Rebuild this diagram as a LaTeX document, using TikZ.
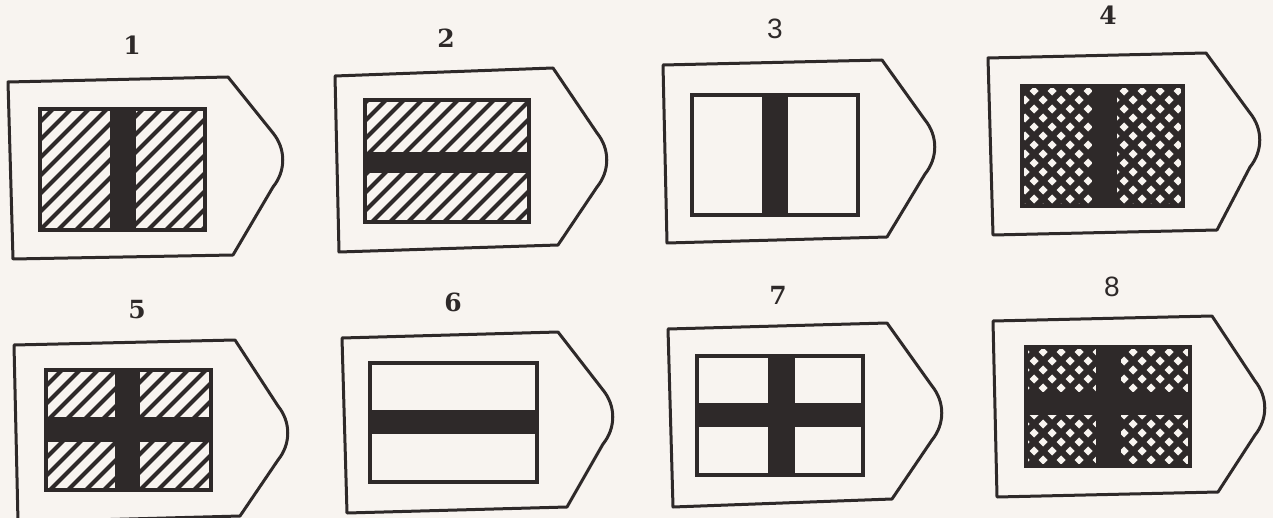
\documentclass[tikz,border=0pt]{standalone}
\usepackage{fontspec}
\setmainfont{DejaVu Serif}
\newfontfamily\sansdig{Liberation Sans}
\usetikzlibrary{calc}
\definecolor{ink}{HTML}{2E2929}
\definecolor{paper}{HTML}{F8F4F0}
\tikzset{
  outline/.style={draw=ink, line width=3pt, line join=round, fill=paper},
  flagframe/.style={draw=ink, line width=3.5pt, fill=paper},
  barfill/.style={fill=ink},
  hatchline/.style={draw=ink, line width=4pt},
  crossline/.style={draw=ink, line width=6pt},
  numlabel/.style={inner sep=0pt, text=ink, font=\bfseries\fontsize{25}{25}\selectfont},
  sanslabel/.style={inner sep=0pt, text=ink, font=\sansdig\fontsize{28}{28}\selectfont},
}
% #1 TL, #2 TR, #3 tip, #4 BR, #5 BL
\newcommand\badge[5]{%
  \draw[outline] #1 -- #2 -- ($#3+(-10,-27)$) .. controls ($#3+(3,-11)$) and ($#3+(3,11)$) .. ($#3+(-10,27)$) -- #4 -- #5 -- cycle;}
% hatched sub-region: x0 y0 x1 y1
\newcommand\hatchreg[4]{%
  \begin{scope}
    \clip (#1,#2) rectangle (#3,#4);
    \fill[paper] (#1,#2) rectangle (#3,#4);
    \foreach \c in {0,18,...,1800} {\draw[hatchline] (\c,0) -- ++(-560,560);}
  \end{scope}}
\newcommand\crossreg[4]{%
  \begin{scope}
    \clip (#1,#2) rectangle (#3,#4);
    \fill[paper] (#1,#2) rectangle (#3,#4);
    \foreach \c in {0,18,...,1800} {\draw[crossline] (\c,0) -- ++(-560,560);}
    \foreach \c in {-560,-542,...,1280} {\draw[crossline] (\c,0) -- ++(560,560);}
  \end{scope}}
\begin{document}
\begin{tikzpicture}[x=1pt,y=-1pt]
\fill[paper] (0,0) rectangle (1273,518);
\useasboundingbox (0,0) rectangle (1273,518);

% ---------- labels ----------
\node[numlabel]  (l1) at (132,45)  {1};
\node[numlabel]  (l2) at (446,38)  {2};
\node[sanslabel] (l3) at (775,29)  {3};
\node[numlabel]  (l4) at (1108,15) {4};
\node[numlabel]  (l5) at (137,310) {5};
\node[numlabel]  (l6) at (453,302) {6};
\node[numlabel]  (l7) at (778,295) {7};
\node[sanslabel] (l8) at (1112,287){8};

% ---------- outlines ----------
\badge{(8,82)}{(228,77)}{(283,160)}{(233,255)}{(13,259)}
\badge{(335,76)}{(553,68)}{(607,160)}{(558,245)}{(339,252)}
\badge{(663,65)}{(882,60)}{(935,147)}{(887,237)}{(667,243)}
\badge{(988,58)}{(1206,53)}{(1260,140)}{(1217,230)}{(993,235)}
\badge{(14,345)}{(235,340)}{(288,433)}{(240,516)}{(18,522)}
\badge{(342,338)}{(558,332)}{(613,417)}{(567,507)}{(347,513)}
\badge{(668,329)}{(887,323)}{(942,413)}{(892,499)}{(673,507)}
\badge{(993,321)}{(1212,316)}{(1265,408)}{(1218,492)}{(997,497)}

% ---------- 1: hatched, vertical bar ----------
\fill[ink] (38,107) rectangle (207,232);
\hatchreg{42}{111}{110}{228}
\hatchreg{136}{111}{203}{228}

% ---------- 2: hatched, horizontal bar ----------
\fill[ink] (363,98) rectangle (531,224);
\hatchreg{367}{102}{527}{152}
\hatchreg{367}{173}{527}{220}

% ---------- 3: plain, vertical bar ----------
\draw[flagframe] (692,95) rectangle (858,215);
\fill[barfill] (762,95) rectangle (788,215);

% ---------- 4: cross-hatched, vertical bar ----------
\fill[ink] (1020,84) rectangle (1185,208);
\crossreg{1024}{88}{1092}{204}
\crossreg{1117}{88}{1181}{204}

% ---------- 5: hatched, cross ----------
\fill[ink] (44,368) rectangle (213,492);
\hatchreg{48}{372}{115}{417}
\hatchreg{140}{372}{209}{417}
\hatchreg{48}{442}{115}{488}
\hatchreg{140}{442}{209}{488}

% ---------- 6: plain, horizontal bar ----------
\draw[flagframe] (370,363) rectangle (537,482);
\fill[barfill] (370,410) rectangle (537,434);

% ---------- 7: plain, cross ----------
\draw[flagframe] (697,356) rectangle (863,475);
\fill[barfill] (768,356) rectangle (795,475);
\fill[barfill] (697,403) rectangle (863,427);

% ---------- 8: cross-hatched, cross ----------
\fill[ink] (1024,345) rectangle (1192,468);
\crossreg{1028}{349}{1096}{392}
\crossreg{1121}{349}{1188}{392}
\crossreg{1028}{415}{1096}{464}
\crossreg{1121}{415}{1188}{464}
\end{tikzpicture}
\end{document}
